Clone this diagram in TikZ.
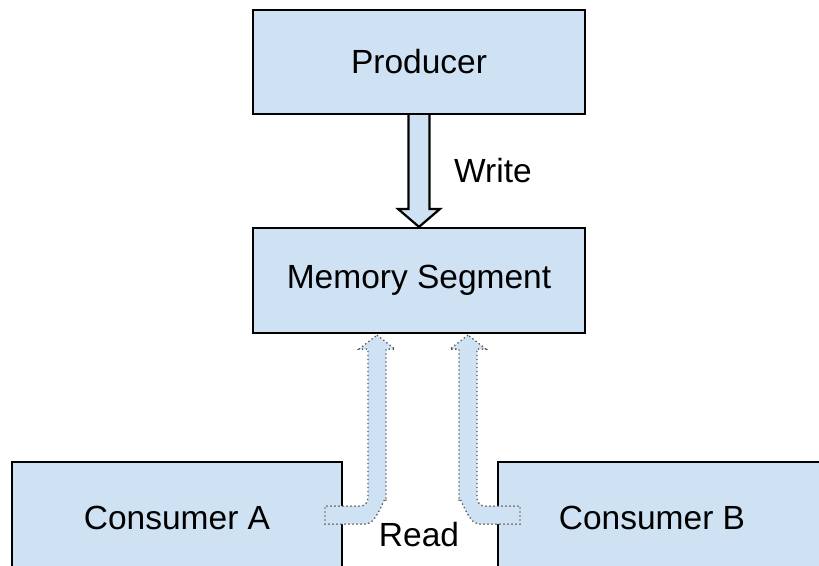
\documentclass[tikz,border=0pt]{standalone}
\usepackage{fontspec}
\setmainfont{Liberation Sans}
\usetikzlibrary{calc}
\definecolor{boxblue}{HTML}{CFE2F3}
\definecolor{dotgray}{HTML}{555555}
\tikzset{
  box/.style={draw=black, line width=2.2pt, fill=boxblue, rectangle, inner sep=0pt,
    font=\fontsize{33.5}{40}\selectfont},
  lbl/.style={inner sep=0pt, font=\fontsize{33.5}{40}\selectfont},
  fatarrow/.style={draw=black, line width=2.2pt, fill=boxblue, line join=miter},
  readarrow/.style={draw=dotgray, line width=1.3pt, fill=boxblue, dash pattern=on 1.3pt off 2.7pt}
}
\begin{document}
\begin{tikzpicture}[x=1pt,y=-1pt]
\clip (0,0) rectangle (819,565);
\useasboundingbox (0,0) rectangle (819,565);
\node[box, minimum width=332pt, minimum height=104pt] (prod) at (419,62) {Producer};
\node[box, minimum width=332pt, minimum height=105pt] (mem) at (419,280.5) {Memory Segment};
\node[box, minimum width=330pt, minimum height=112pt] (ca) at (177,518) {Consumer A};
\node[box, minimum width=340pt, minimum height=112pt, anchor=west] (cb) at (497,518) {};
\node[lbl] (cbt) at (652,518) {Consumer B};
% write arrow
\coordinate (wtop) at (prod.south);
\coordinate (wtip) at (mem.north);
\draw[fatarrow] ($(wtop)+(-10.5,0)$) -- ($(wtip)+(-10.5,-18)$) -- ($(wtip)+(-21,-18)$) -- (wtip)
  -- ($(wtip)+(21,-18)$) -- ($(wtip)+(10.5,-18)$) -- ($(wtop)+(10.5,0)$);
\node[lbl, anchor=west] (wr) at ($(prod.south)!0.5!(mem.north)+(35,0)$) {Write};
% read arrows
\coordinate (ta) at ($(mem.south)+(-42,1)$);
\coordinate (tb) at ($(mem.south)+(49,1)$);
\draw[readarrow] (ta) -- ++(18,14) -- ++(-9,0) -- ++(0,152) to[out=90,in=0] ++(-20,23)
  -- ++(-41,0) -- ++(0,-18) -- ++(35,0) to[out=0,in=270] ++(8,-8) -- ++(0,-149) -- ++(-9,0) -- cycle;
\draw[readarrow] (tb) -- ++(-18,14) -- ++(9,0) -- ++(0,152) to[out=90,in=180] ++(20,23)
  -- ++(41,0) -- ++(0,-18) -- ++(-35,0) to[out=180,in=270] ++(-8,-8) -- ++(0,-149) -- ++(9,0) -- cycle;
\node[lbl] (rd) at ($(mem.south)+(0,200)$) {Read};
\end{tikzpicture}
\end{document}
